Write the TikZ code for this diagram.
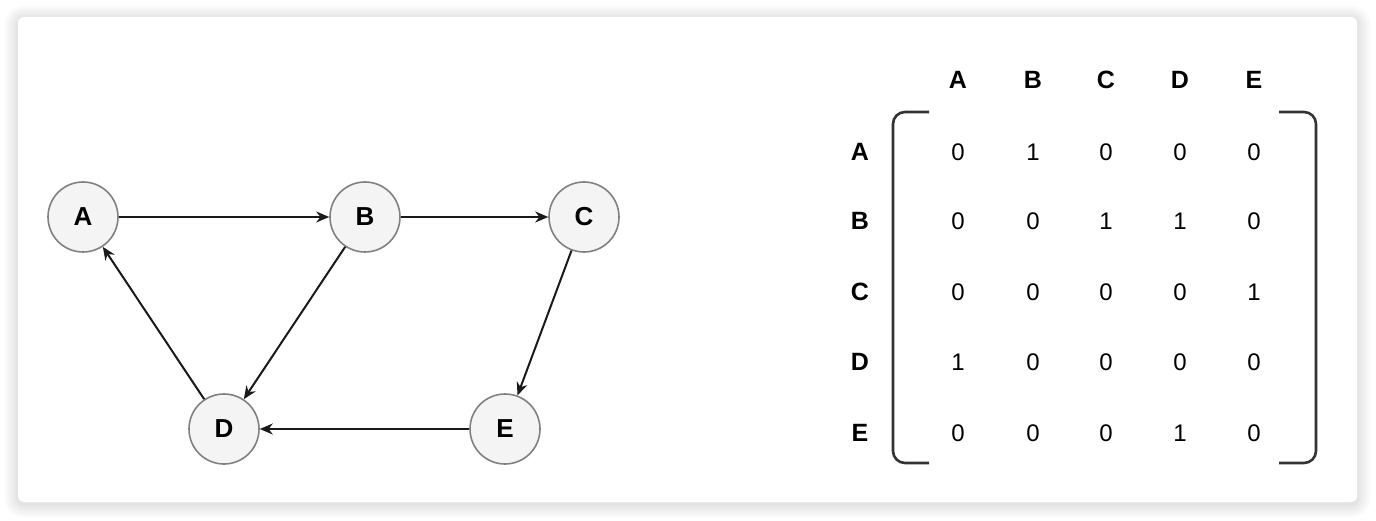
\documentclass[tikz,border=0pt]{standalone}
\usepackage{fontspec}
\setmainfont{Liberation Sans}
\usetikzlibrary{arrows.meta}
\definecolor{nodefill}{HTML}{F4F4F4}
\definecolor{nodeline}{HTML}{808080}
\definecolor{inkline}{HTML}{1A1A1A}
\definecolor{bracketline}{HTML}{333333}
\begin{document}
\begin{tikzpicture}[x=1pt,y=-1pt,
  vertex/.style={circle,draw=nodeline,fill=nodefill,line width=1.6pt,
    minimum size=70pt,inner sep=0pt,font=\fontsize{26}{26}\selectfont\bfseries},
  edge/.style={draw=inkline,line width=2pt,-{Stealth[length=13pt,width=11pt]}},
  head/.style={font=\fontsize{25}{25}\selectfont\bfseries,inner sep=0pt},
  cell/.style={font=\fontsize{24}{24}\selectfont,inner sep=0pt},
  bracket/.style={draw=bracketline,line width=2.6pt,rounded corners=12pt}]
\useasboundingbox (0,0) rectangle (1376,521);
% soft shadow around the card
\foreach \i in {1,...,14}{
  \fill[black,opacity=0.007,rounded corners=6pt+\i pt]
    (18-\i,17-\i+2) rectangle (1357+\i,502+\i+2);
}
\fill[white,rounded corners=6pt] (18,17) rectangle (1357,502);

% graph
\node[vertex] (A) at (83,217) {A};
\node[vertex] (B) at (365,217) {B};
\node[vertex] (C) at (584,217) {C};
\node[vertex] (D) at (224,429) {D};
\node[vertex] (E) at (505,429) {E};
\draw[edge] (A) -- (B);
\draw[edge] (B) -- (C);
\draw[edge] (B) -- (D);
\draw[edge] (C) -- (E);
\draw[edge] (E) -- (D);
\draw[edge] (D) -- (A);

% adjacency matrix: column and row labels
\foreach \n/\x in {A/958,B/1033,C/1106,D/1180,E/1254}{
  \node[head] (col\n) at (\x,80) {\n};
}
\foreach \n/\y in {A/152,B/221,C/292,D/362,E/433}{
  \node[head] (row\n) at (860,\y) {\n};
}
% entries
\foreach \r/\y/\vals in {A/152/{0,1,0,0,0},B/221/{0,0,1,1,0},C/292/{0,0,0,0,1},D/362/{1,0,0,0,0},E/433/{0,0,0,1,0}}{
  \foreach \v [count=\c] in \vals{
    \pgfmathsetmacro\xx{{958,1033,1106,1180,1254}[\c-1]}
    \node[cell] (m\r\c) at (\xx,\y) {\v};
  }
}
% brackets
\draw[bracket] (929,112) -- (893,112) -- (893,463) -- (929,463);
\draw[bracket] (1279,112) -- (1316,112) -- (1316,463) -- (1279,463);
\end{tikzpicture}
\end{document}
